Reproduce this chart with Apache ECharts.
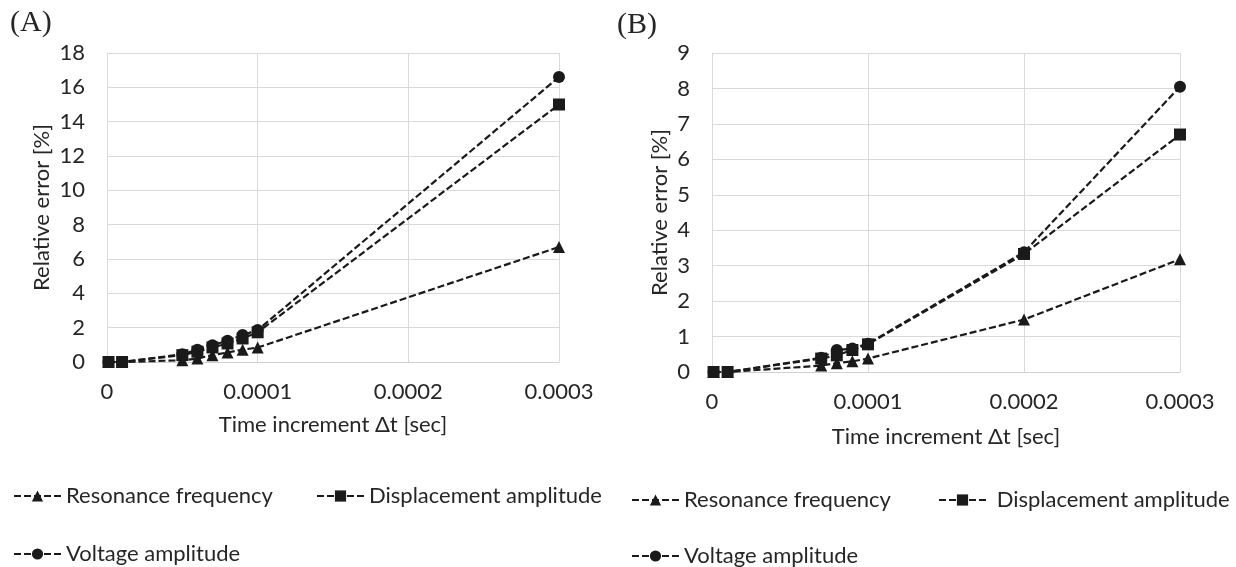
<!DOCTYPE html>
<html>
<head>
<meta charset="utf-8">
<script src="https://cdn.jsdelivr.net/npm/echarts@6/dist/echarts.min.js"></script>
<style>
  html, body { margin: 0; padding: 0; background: #fff; }
  #main { width: 1236px; height: 567px; }
</style>
</head>
<body>
<div id="main"></div>
<script>
// (A) time steps and relative errors [%]
var timeA = [0.000001, 0.00001, 0.00005, 0.00006, 0.00007, 0.00008, 0.00009, 0.0001, 0.0003];
var resA  = [0, 0, 0.1, 0.2, 0.4, 0.55, 0.72, 0.84, 6.7];
var dispA = [0, 0, 0.4, 0.6, 0.85, 1.08, 1.37, 1.73, 15.0];
var voltA = [0, 0, 0.45, 0.72, 0.98, 1.24, 1.57, 1.86, 16.6];

// (B)
var timeB = [0.000001, 0.00001, 0.00007, 0.00008, 0.00009, 0.0001, 0.0002, 0.0003];
var resB  = [0, 0, 0.18, 0.25, 0.3, 0.38, 1.48, 3.18];
var dispB = [0, 0, 0.38, 0.47, 0.62, 0.78, 3.33, 6.7];
var voltB = [0, 0, 0.4, 0.62, 0.66, 0.8, 3.38, 8.05];

var seriesNames = ['Resonance frequency', 'Displacement amplitude', 'Voltage amplitude'];

var FONT = 'Lato';
var FS = 22;
var TEXT = '#262626';

function pairs(xs, ys) {
    return xs.map(function (x, i) { return [x, ys[i]]; });
}

function mkLine(name, symbol, size, idx, xs, ys) {
    return {
        name: name,
        type: 'line',
        xAxisIndex: idx,
        yAxisIndex: idx,
        symbol: symbol,
        symbolSize: size,
        showAllSymbol: true,
        data: pairs(xs, ys),
        lineStyle: { color: '#1a1a1a', width: 2.2, type: [7, 3] },
        itemStyle: { color: '#1a1a1a' },
        animation: false
    };
}

function mkX(idx, margin, nameGap) {
    return {
        type: 'value',
        gridIndex: idx,
        min: 0, max: 0.0003, interval: 0.0001,
        name: 'Time increment \u0394t [sec]',
        nameLocation: 'middle',
        nameGap: nameGap,
        nameTextStyle: { fontFamily: FONT, fontSize: FS, color: TEXT },
        axisLabel: {
            fontFamily: FONT, fontSize: FS, color: TEXT, margin: margin,
            formatter: function (v) { return v === 0 ? '0' : v.toFixed(4); }
        },
        axisLine: { show: true, lineStyle: { color: '#d0d0d0' } },
        axisTick: { show: false },
        splitLine: { show: true, lineStyle: { color: '#d9d9d9' } }
    };
}

function mkY(idx, max, nameGap) {
    return {
        type: 'value',
        gridIndex: idx,
        min: 0, max: max, interval: max === 18 ? 2 : 1,
        name: 'Relative error [%]',
        nameLocation: 'middle',
        nameGap: nameGap,
        nameTextStyle: { fontFamily: FONT, fontSize: FS, color: TEXT },
        axisLabel: { fontFamily: FONT, fontSize: FS, color: TEXT, margin: 22 },
        axisLine: { show: true, lineStyle: { color: '#d9d9d9' } },
        axisTick: { show: false },
        splitLine: { show: true, lineStyle: { color: '#d9d9d9' } }
    };
}

function mkLegend(name, left, top, lead) {
    return {
        data: [name],
        left: left,
        top: top,
        orient: 'horizontal',
        itemWidth: 47,
        itemHeight: 14,
        formatter: function (n) { return (lead || '') + n; },
        textStyle: { fontFamily: FONT, fontSize: FS, color: TEXT },
        selectedMode: false
    };
}

var myChart = echarts.init(document.getElementById('main'));
var option = {
    backgroundColor: '#fff',
    animation: false,
    title: [
        { text: '(A)', left: 5, top: 3, textStyle: { fontFamily: 'Liberation Serif', fontSize: 30, fontWeight: 'normal', color: TEXT } },
        { text: '(B)', left: 612, top: 5, textStyle: { fontFamily: 'Liberation Serif', fontSize: 30, fontWeight: 'normal', color: TEXT } }
    ],
    grid: [
        { left: 107, top: 53, width: 452, height: 309 },
        { left: 712, top: 53, width: 468, height: 319 }
    ],
    xAxis: [mkX(0, 19, 52), mkX(1, 19, 54)],
    yAxis: [mkY(0, 18, 54), mkY(1, 9, 41)],
    legend: [
        mkLegend(seriesNames[0], 8, 480),
        mkLegend(seriesNames[1], 311, 480),
        mkLegend(seriesNames[2], 8, 538),
        mkLegend(seriesNames[0], 626, 484),
        mkLegend(seriesNames[1], 933, 484, ' '),
        mkLegend(seriesNames[2], 626, 540)
    ],
    series: [
        mkLine(seriesNames[2], 'circle', 12, 0, timeA, voltA),
        mkLine(seriesNames[1], 'rect', 12, 0, timeA, dispA),
        mkLine(seriesNames[0], 'triangle', 12, 0, timeA, resA),
        mkLine(seriesNames[2], 'circle', 12, 1, timeB, voltB),
        mkLine(seriesNames[1], 'rect', 12, 1, timeB, dispB),
        mkLine(seriesNames[0], 'triangle', 12, 1, timeB, resB)
    ]
};

if (option && typeof option === "object") {
    myChart.setOption(option, true);
}
</script>
</body>
</html>
